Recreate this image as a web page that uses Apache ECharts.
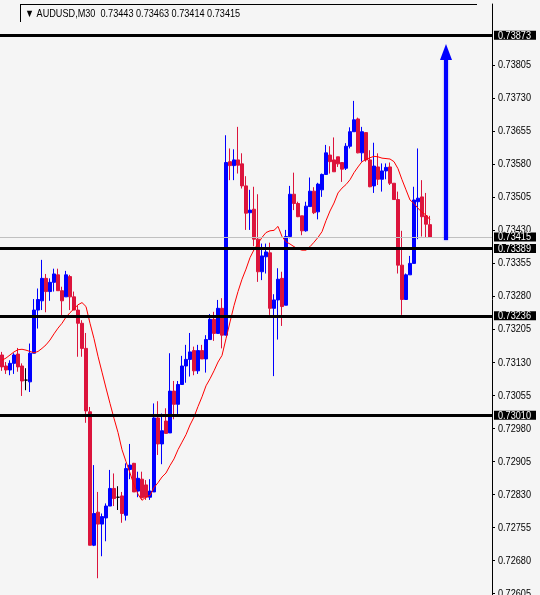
<!DOCTYPE html>
<html>
<head>
<meta charset="utf-8">
<script src="https://cdn.jsdelivr.net/npm/echarts@6/dist/echarts.min.js"></script>
<style>
html,body{margin:0;padding:0;background:#f5f5f5;}
#c{width:540px;height:595px;}
</style>
</head>
<body>
<div id="c"></div>
<script>
// ---- data (AUDUSD M30) ----
const symbolTitle = 'AUDUSD,M30';
const lastQuote = ['0.73443', '0.73463', '0.73414', '0.73415'];

const open = [
0.73147,0.73122,0.73113,0.73128,0.73149,0.73122,0.73090,0.73086,0.73151,0.73249,
0.73270,0.73321,0.73291,0.73312,0.73329,0.73293,0.73279,0.73325,0.73279,0.73249,
0.73219,0.73162,0.73018,0.72715,0.72790,0.72763,0.72777,0.72804,0.72844,0.72824,
0.72827,0.72783,0.72887,0.72901,0.72838,0.72865,0.72852,0.72824,0.72836,0.73004,
0.72945,0.72997,0.72970,0.73065,0.73035,0.73080,0.73122,0.73137,0.73157,0.73111,
0.73157,0.73138,0.73182,0.73228,0.73196,0.73253,0.73192,0.73586,0.73577,0.73590,
0.73581,0.73531,0.73470,0.73478,0.73410,0.73336,0.73370,0.73379,0.73253,0.73272,
0.73321,0.73260,0.73416,0.73512,0.73491,0.73463,0.73429,0.73484,0.73519,0.73472,
0.73522,0.73557,0.73601,0.73590,0.73597,0.73584,0.73571,0.73621,0.73654,0.73683,
0.73606,0.73652,0.73590,0.73531,0.73574,0.73546,0.73565,0.73574,0.73537,0.73500,
0.73351,0.73273,0.73329,0.73355,0.73495,0.73506,0.73463,0.73443
];
const close = [
0.73120,0.73113,0.73128,0.73147,0.73120,0.73088,0.73090,0.73151,0.73249,0.73273,
0.73321,0.73291,0.73312,0.73331,0.73293,0.73270,0.73329,0.73279,0.73249,0.73219,
0.73162,0.73020,0.72715,0.72787,0.72763,0.72780,0.72804,0.72844,0.72821,0.72824,
0.72787,0.72889,0.72897,0.72836,0.72867,0.72823,0.72824,0.72838,0.73004,0.72945,
0.72975,0.72969,0.73065,0.73035,0.73080,0.73122,0.73137,0.73154,0.73111,0.73157,
0.73138,0.73182,0.73228,0.73196,0.73253,0.73192,0.73584,0.73577,0.73590,0.73578,
0.73531,0.73469,0.73476,0.73410,0.73336,0.73372,0.73381,0.73253,0.73272,0.73319,
0.73257,0.73416,0.73512,0.73491,0.73461,0.73429,0.73485,0.73519,0.73470,0.73535,
0.73557,0.73606,0.73586,0.73563,0.73581,0.73569,0.73621,0.73654,0.73681,0.73606,
0.73654,0.73590,0.73529,0.73576,0.73546,0.73565,0.73573,0.73537,0.73500,0.73351,
0.73273,0.73329,0.73355,0.73499,0.73503,0.73461,0.73444,0.73415
];
const low = [
0.73111,0.73104,0.73101,0.73104,0.73109,0.73054,0.73067,0.73063,0.73151,0.73207,
0.73249,0.73244,0.73270,0.73291,0.73293,0.73236,0.73279,0.73249,0.73249,0.73143,
0.73143,0.72993,0.72715,0.72713,0.72640,0.72690,0.72724,0.72804,0.72804,0.72795,
0.72766,0.72771,0.72865,0.72836,0.72824,0.72821,0.72818,0.72818,0.72836,0.72920,
0.72899,0.72969,0.72970,0.73001,0.73011,0.73080,0.73084,0.73098,0.73101,0.73104,
0.73138,0.73107,0.73182,0.73179,0.73196,0.73162,0.73192,0.73544,0.73544,0.73559,
0.73525,0.73431,0.73431,0.73394,0.73313,0.73317,0.73332,0.73238,0.73099,0.73182,
0.73213,0.73260,0.73412,0.73476,0.73460,0.73419,0.73427,0.73484,0.73467,0.73455,
0.73506,0.73556,0.73559,0.73563,0.73574,0.73540,0.73567,0.73616,0.73654,0.73605,
0.73586,0.73586,0.73528,0.73515,0.73533,0.73518,0.73546,0.73533,0.73500,0.73332,
0.73238,0.73273,0.73329,0.73355,0.73410,0.73416,0.73414,0.73414
];
const high = [
0.73154,0.73131,0.73135,0.73151,0.73163,0.73128,0.73117,0.73173,0.73274,0.73298,
0.73363,0.73331,0.73321,0.73343,0.73343,0.73302,0.73338,0.73329,0.73291,0.73260,
0.73226,0.73197,0.73029,0.72897,0.72836,0.72787,0.72810,0.72886,0.72878,0.72849,
0.72836,0.72901,0.72945,0.72902,0.72882,0.72882,0.72863,0.72865,0.73037,0.73042,
0.73014,0.73026,0.73151,0.73088,0.73088,0.73145,0.73170,0.73197,0.73166,0.73170,
0.73170,0.73192,0.73240,0.73245,0.73272,0.73276,0.73646,0.73616,0.73614,0.73665,
0.73605,0.73553,0.73522,0.73529,0.73512,0.73400,0.73400,0.73402,0.73285,0.73344,
0.73336,0.73431,0.73531,0.73561,0.73495,0.73463,0.73495,0.73550,0.73528,0.73538,
0.73559,0.73624,0.73621,0.73641,0.73597,0.73584,0.73628,0.73664,0.73724,0.73686,
0.73665,0.73652,0.73612,0.73629,0.73605,0.73582,0.73582,0.73584,0.73537,0.73518,
0.73429,0.73332,0.73372,0.73529,0.73616,0.73544,0.73515,0.73463
];
// moving average values at the left edge (earlier bars are off-screen)
const maLead = [0.73135,0.73140,0.73147,0.73154,0.73159,0.73160,0.73158,0.73155,0.73152,0.73155,0.73162,0.73170,0.73181];
const maPeriod = 14;

// price levels drawn as horizontal lines
const levels = [0.73873, 0.73389, 0.73236, 0.73010];
const bidPrice = 0.73415;
// arrow (bar slot, from price, to price)
const arrowSlot = 111;
const arrowFrom = 0.73408;
const arrowTo = 0.73835;

// axis tick labels
const tickValues = [0.72605,0.72680,0.72755,0.72830,0.72905,0.72980,0.73055,0.73130,0.73205,0.73280,0.73355,0.73430,0.73505,0.73580,0.73655,0.73730,0.73805];
const yMin = 0.72602, yMax = 0.73944;
const slotCount = 123;

// ---- build ----
const categories = [];
for (let i = 0; i < slotCount; i++) categories.push(String(i));
const ohlc = open.map((o, i) => [o, close[i], low[i], high[i]]);
const ma = close.map((c, i) => {
  if (i < maLead.length) return maLead[i];
  let s = 0;
  for (let j = i - maPeriod + 1; j <= i; j++) s += close[j];
  return +(s / maPeriod).toFixed(5);
});

const FONT = '"Liberation Sans", Arial, sans-serif';
const NARROW = 0.83; // horizontal squeeze to mimic the narrow terminal font

const chart = echarts.init(document.getElementById('c'), null, {renderer: 'canvas'});
chart.setOption({
  animation: false,
  backgroundColor: '#f5f5f5',
  grid: {left: 0, right: 48, top: 4, bottom: 0, outerBoundsMode: 'none', containLabel: false},
  xAxis: {
    type: 'category', data: categories, boundaryGap: true,
    axisLine: {show: false}, axisTick: {show: false}, axisLabel: {show: false}, splitLine: {show: false}
  },
  yAxis: {
    type: 'value', position: 'right', min: yMin, max: yMax, scale: true,
    splitLine: {show: false},
    axisLine: {show: true, lineStyle: {color: '#000', width: 1}},
    axisTick: {show: true, length: 3, customValues: tickValues, lineStyle: {color: '#000'}},
    axisLabel: {show: false}
  },
  series: [
    {
      type: 'line', data: [], symbol: 'none', z: 2,
      markLine: {
        silent: true, symbol: ['none', 'none'], animation: false, precision: 5, label: {show: false},
        data: [{yAxis: bidPrice, lineStyle: {color: '#c0c0c0', width: 1, type: 'solid'}}]
      }
    },
    {
      type: 'candlestick', data: ohlc, barWidth: 3,
      itemStyle: {color: '#0000ff', color0: '#dc143c', borderColor: '#0000ff', borderColor0: '#dc143c',
        borderColorDoji: '#000000', borderWidth: 1},
      z: 3
    },
    {
      type: 'line', data: ma, symbol: 'none', smooth: false,
      lineStyle: {color: '#ff0000', width: 1}, z: 4
    },
    {
      type: 'line', data: [], symbol: 'none', z: 5,
      markLine: {
        silent: true, symbol: ['none', 'none'], animation: false, precision: 5, label: {show: false},
        data: levels.map(v => ({yAxis: v, lineStyle: {color: '#000', width: 3, type: 'solid'}}))
      }
    },
    {
      type: 'line', data: [], symbol: 'none', z: 6,
      markLine: {
        silent: true, animation: false, precision: 5,
        symbol: ['none', 'triangle'], symbolSize: [12, 16],
        lineStyle: {color: '#0000ff', width: 4, type: 'solid', shadowBlur: 2, shadowColor: 'rgba(0,0,255,0.5)'},
        label: {show: false},
        data: [[{coord: [String(arrowSlot), arrowFrom]}, {coord: [String(arrowSlot), arrowTo]}]]
      }
    }
  ]
});

// price texts on the right scale, positioned through the y axis
const axisX = chart.convertToPixel({xAxisIndex: 0}, categories[slotCount - 1]) + 2;
const gfx = [
  {type: 'line', shape: {x1: 20, y1: 4.5, x2: 477, y2: 4.5}, style: {stroke: '#000', lineWidth: 1}, silent: true, z: 100},
  {type: 'line', shape: {x1: 20.5, y1: 4, x2: 20.5, y2: 22}, style: {stroke: '#000', lineWidth: 1}, silent: true, z: 100},
  {type: 'text', x: 25, y: 14, scaleX: NARROW, silent: true, z: 100,
    style: {x: 0, y: 0, text: '\u25BC ' + symbolTitle + '  ' + lastQuote.join(' '),
      fill: '#000', font: '11px ' + FONT, verticalAlign: 'middle'}}
];
tickValues.forEach(v => {
  const py = chart.convertToPixel({yAxisIndex: 0}, v);
  gfx.push({type: 'text', x: axisX + 6, y: py, scaleX: NARROW, silent: true, z: 100,
    style: {x: 0, y: 0, text: v.toFixed(5), fill: '#000', font: '11px ' + FONT, verticalAlign: 'middle'}});
});
levels.concat([bidPrice]).forEach(v => {
  const py = chart.convertToPixel({yAxisIndex: 0}, v);
  gfx.push({type: 'rect', shape: {x: axisX + 2, y: py - 4.5, width: 42, height: 9}, style: {fill: '#000'}, silent: true, z: 101});
  gfx.push({type: 'text', x: axisX + 6, y: py + 0.5, scaleX: NARROW, silent: true, z: 102,
    style: {x: 0, y: 0, text: v.toFixed(5), fill: '#fff', font: '11px ' + FONT, verticalAlign: 'middle'}});
});
chart.setOption({graphic: gfx});
</script>
</body>
</html>
